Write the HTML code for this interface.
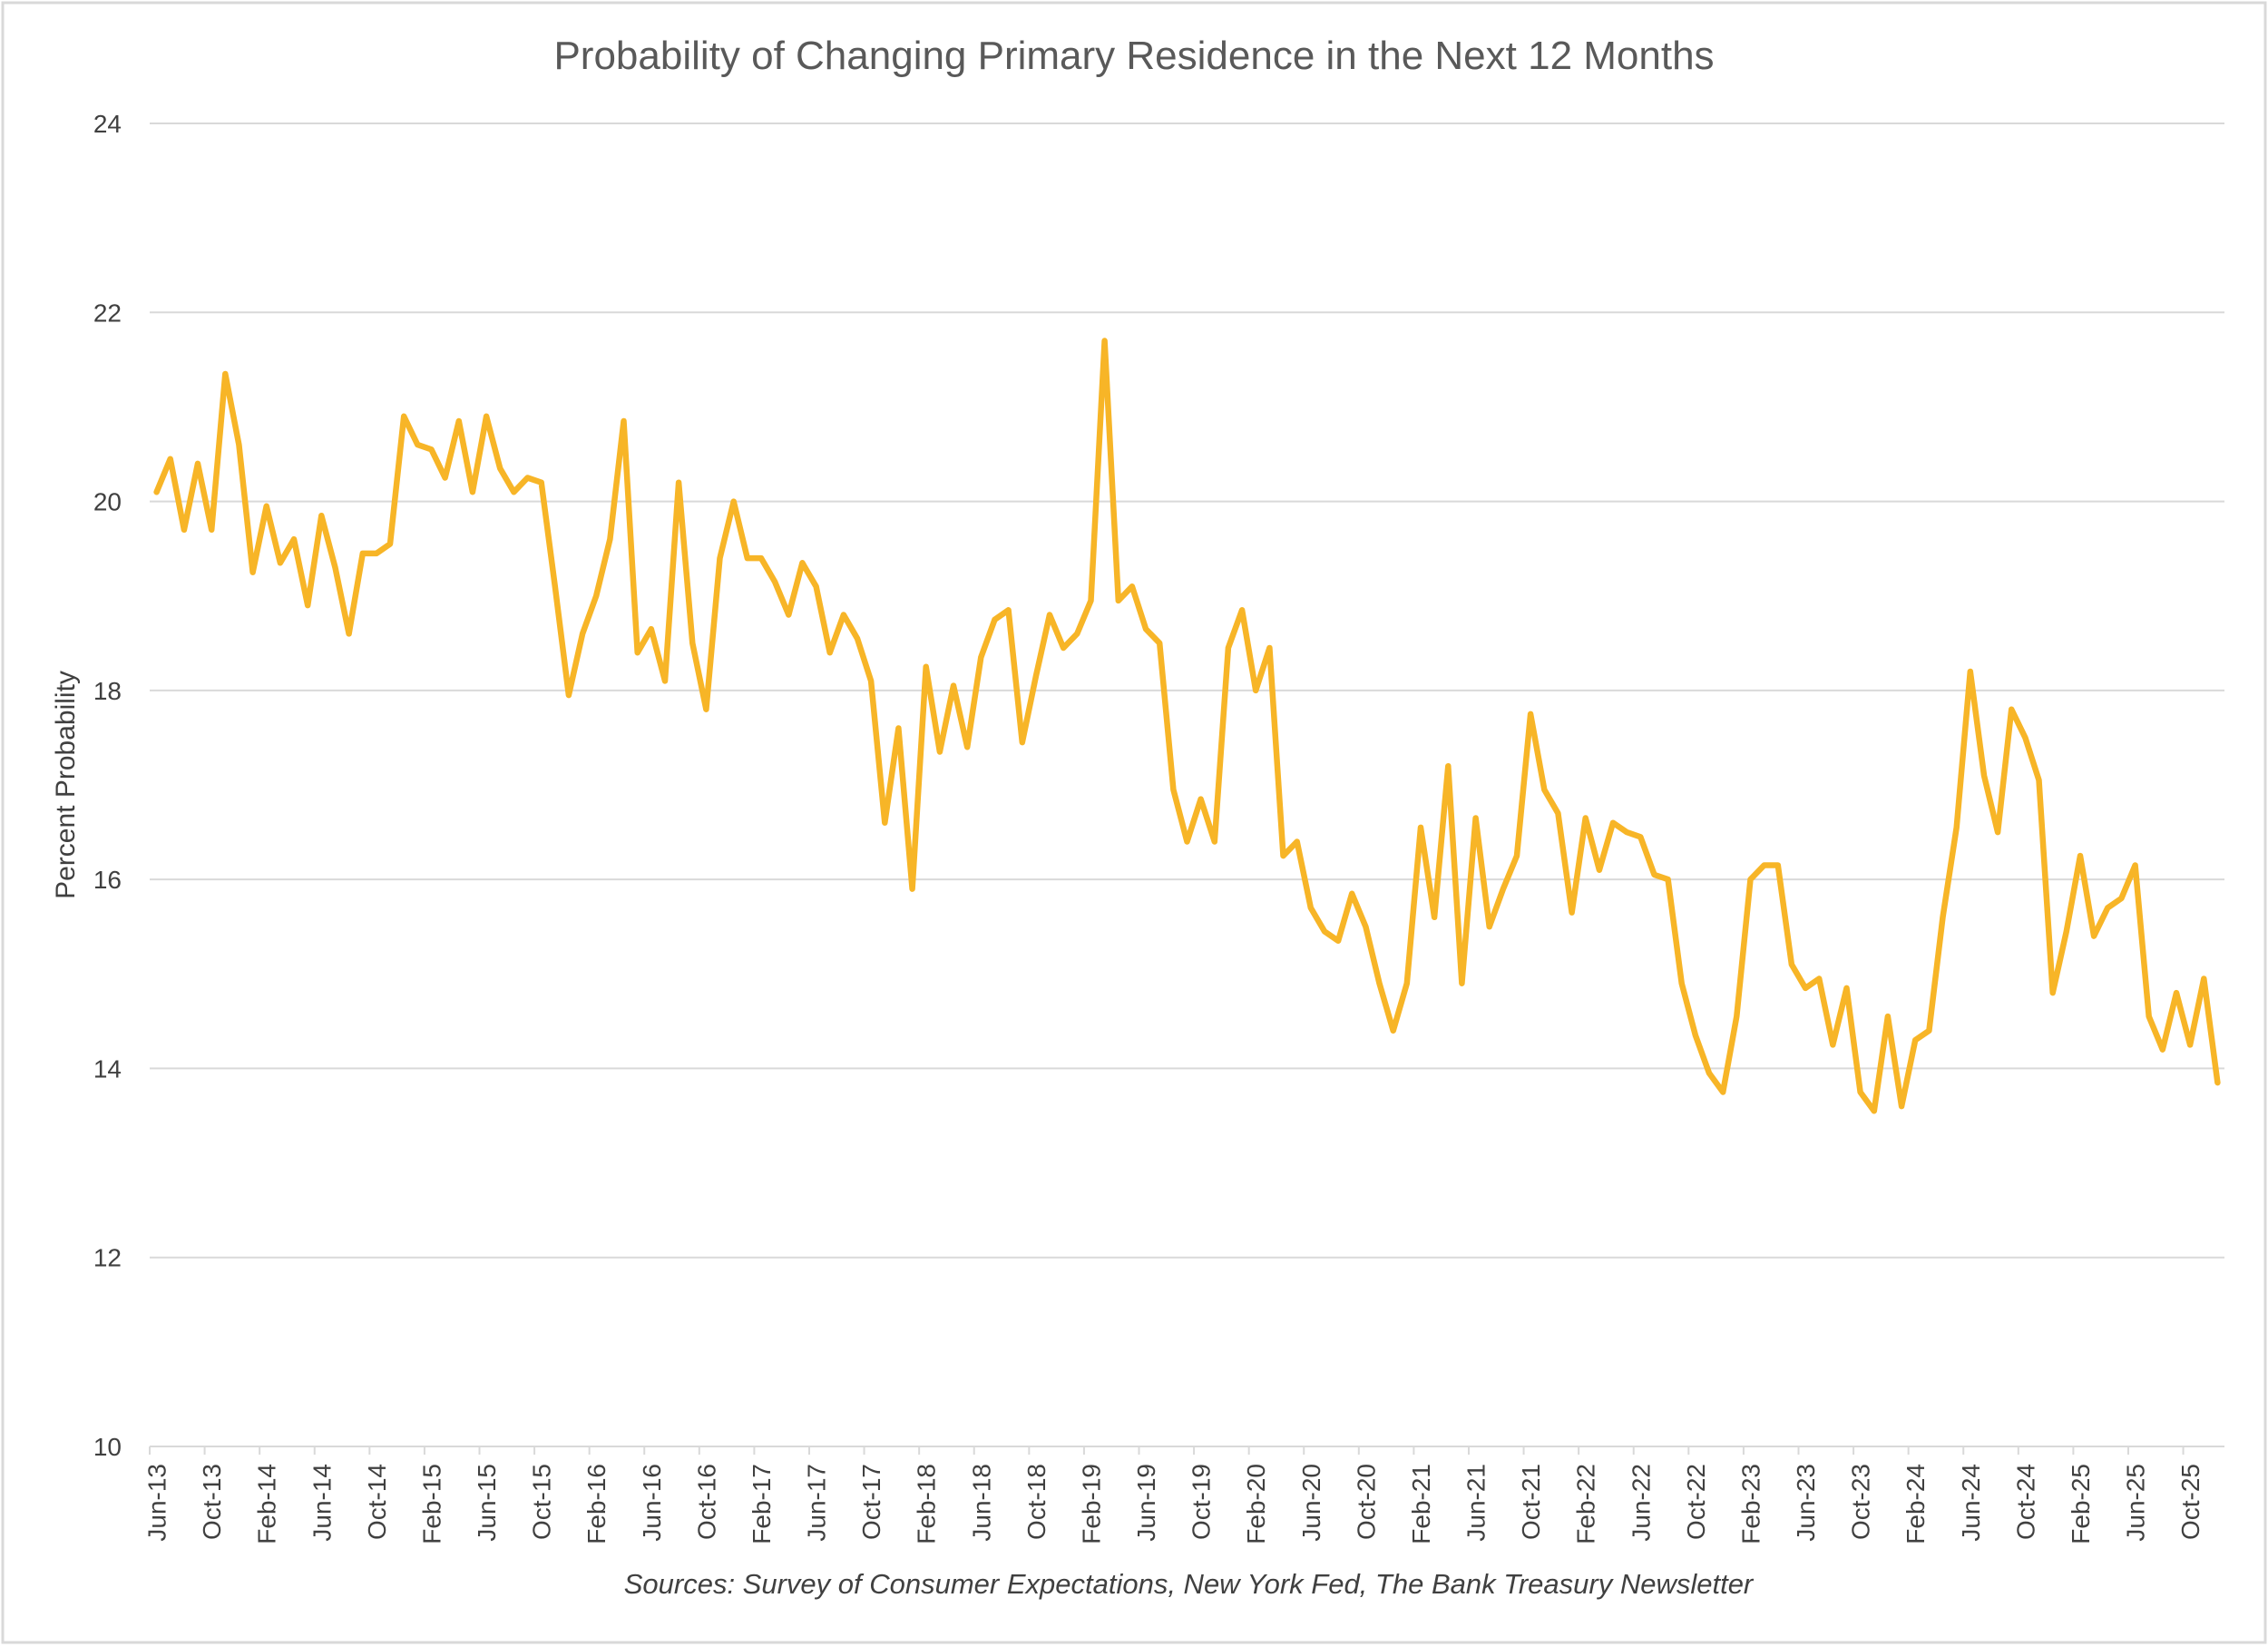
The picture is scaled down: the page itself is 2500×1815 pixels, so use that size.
<!DOCTYPE html>
<html><head><meta charset="utf-8">
<style>
html,body{margin:0;padding:0;background:#fff;}
svg{display:block;font-family:"Liberation Sans",sans-serif;}
</style></head>
<body>
<svg id="chart" width="2500" height="1815" viewBox="0 0 2500 1815">
<rect x="3" y="3" width="2494" height="1807" fill="#fff" stroke="#d9d9d9" stroke-width="3"/>
<text x="1250" y="76" text-anchor="middle" font-size="44" fill="#595959">Probability of Changing Primary Residence in the Next 12 Months</text>
<text transform="translate(82,865) rotate(-90)" text-anchor="middle" font-size="30" fill="#404040">Percent Probability</text>
<text x="1310" y="1756" text-anchor="middle" font-size="31" font-style="italic" fill="#404040">Sources: Survey of Consumer Expectations, New York Fed, The Bank Treasury Newsletter</text>
<g id="grid"></g><g id="xaxis"></g><g id="series"></g>
</svg>
<script>
const yTicks = [10, 12, 14, 16, 18, 20, 22, 24];
const monthNames = ["Jan","Feb","Mar","Apr","May","Jun","Jul","Aug","Sep","Oct","Nov","Dec"];
const startYear = 2013, startMonth = 5;
const probability = [
20.1,20.45,19.7,20.4,19.7,21.35,20.6,19.25,19.95,19.35,19.6,18.9,
19.85,19.3,18.6,19.45,19.45,19.55,20.9,20.6,20.55,20.25,20.85,20.1,
20.9,20.35,20.1,20.25,20.2,19.1,17.95,18.6,19.0,19.6,20.85,18.4,
18.65,18.1,20.2,18.5,17.8,19.4,20.0,19.4,19.4,19.15,18.8,19.35,
19.1,18.4,18.8,18.55,18.1,16.6,17.6,15.9,18.25,17.35,18.05,17.4,
18.35,18.75,18.85,17.45,18.15,18.8,18.45,18.6,18.95,21.7,18.95,19.1,
18.65,18.5,16.95,16.4,16.85,16.4,18.45,18.85,18.0,18.45,16.25,16.4,
15.7,15.45,15.35,15.85,15.5,14.9,14.4,14.9,16.55,15.6,17.2,14.9,
16.65,15.5,15.9,16.25,17.75,16.95,16.7,15.65,16.65,16.1,16.6,16.5,
16.45,16.05,16.0,14.9,14.35,13.95,13.75,14.55,16.0,16.15,16.15,15.1,
14.85,14.95,14.25,14.85,13.75,13.55,14.55,13.6,14.3,14.4,15.6,16.55,
18.2,17.1,16.5,17.8,17.5,17.05,14.8,15.45,16.25,15.4,15.7,15.8,
16.15,14.55,14.2,14.8,14.25,14.95,13.85
];
const categories = probability.map((_, i) => {
  const m = startMonth + i;
  const yr = (startYear + Math.floor(m / 12)) % 100;
  return monthNames[m % 12] + "-" + String(yr).padStart(2, "0");
});
const tickLabels = categories.filter((_, i) => i % 4 === 0);

const NS = "http://www.w3.org/2000/svg";
const X0 = 165, X1 = 2452, Y0 = 1594, Y1 = 136, YMIN = 10, YMAX = 24;
const step = (X1 - X0) / categories.length;
const xScale = i => X0 + step * (i + 0.5);
const yScale = v => Y0 - (v - YMIN) / (YMAX - YMIN) * (Y0 - Y1);
function mk(tag, attrs, parent) { const e = document.createElementNS(NS, tag); for (const k in attrs) e.setAttribute(k, attrs[k]); parent.appendChild(e); return e; }

const grid = document.getElementById("grid");
yTicks.forEach(t => {
  const y = yScale(t);
  if (t !== YMIN) {
    const l = mk("line", {x1: X0, x2: X1, y1: y, y2: y, stroke: "#d9d9d9", "stroke-width": 2}, grid);
    
    
  }
  const tx = mk("text", {x: 134, y: y + 10, "text-anchor": "end", "font-size": 28, fill: "#404040"}, grid);
  tx.textContent = t;
  
  
});

const xa = document.getElementById("xaxis");
const axis = mk("line", {x1: X0, x2: X1, y1: Y0, y2: Y0, stroke: "#d9d9d9", "stroke-width": 2}, xa);


tickLabels.forEach((lab, k) => {
  const i = k * 4;
  const bx = X0 + step * i;
  const tk = mk("line", {x1: bx, x2: bx, y1: Y0, y2: Y0 + 9, stroke: "#d9d9d9", "stroke-width": 2}, xa);
  
  
  const cx = xScale(i) + 10;
  const tx = mk("text", {transform: `translate(${cx},1613) rotate(-90)`, "text-anchor": "end", "font-size": 28, fill: "#404040"}, xa);
  tx.textContent = lab;
  
  
});

const pts = probability.map((v, i) => xScale(i).toFixed(1) + "," + yScale(v).toFixed(1)).join(" ");
const line = mk("polyline", {points: pts, fill: "none", stroke: "#F7B527", "stroke-width": 6.5, "stroke-linejoin": "round", "stroke-linecap": "round"}, document.getElementById("series"));


</script>
</body></html>
